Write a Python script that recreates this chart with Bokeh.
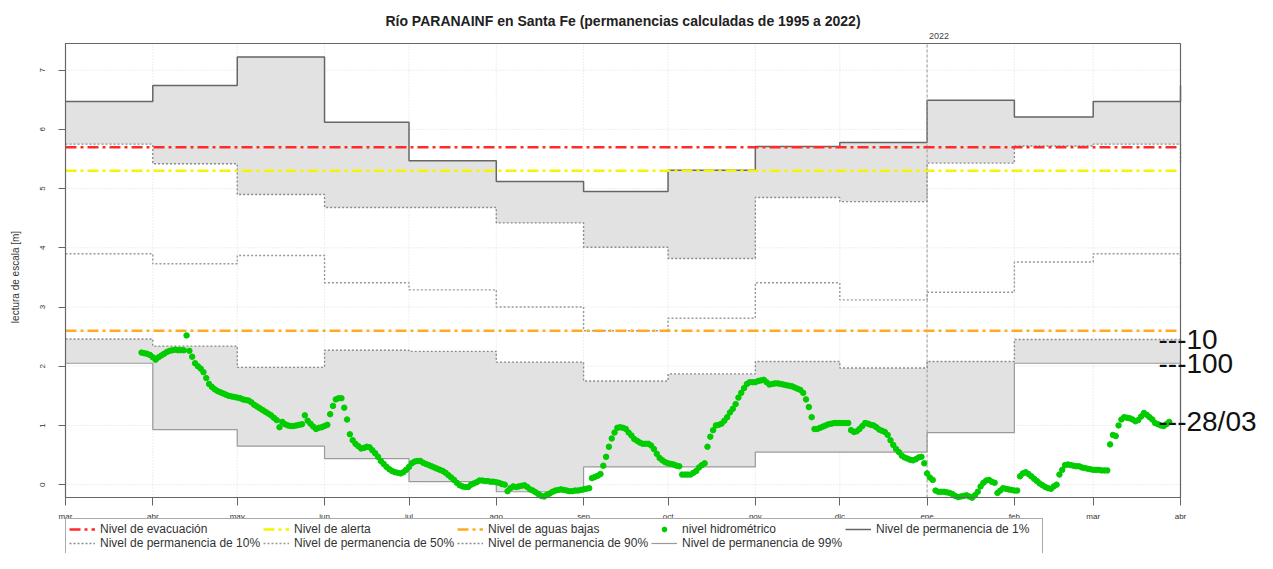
import pandas as pd
from bokeh.plotting import figure
from bokeh.models import (Legend, LegendItem, Label, FixedTicker, Range1d)
from bokeh.embed import file_html
from bokeh.resources import INLINE

# ---------------- data ----------------
titulo = "Río PARANAINF en Santa Fe (permanencias calculadas de 1995 a 2022)"
month_dates = ["2021-03-01", "2021-04-01", "2021-05-01", "2021-06-01", "2021-07-01",
               "2021-08-01", "2021-09-01", "2021-10-01", "2021-11-01", "2021-12-01",
               "2022-01-01", "2022-02-01", "2022-03-01", "2022-04-01"]
month_labels = ["mar", "abr", "may", "jun", "jul", "ago", "sep", "oct", "nov", "dic",
                "ene", "feb", "mar", "abr"]
y_ticks = [0, 1, 2, 3, 4, 5, 6, 7]
y_limits = [-0.217, 7.45]

perm_1 = [6.47, 6.74, 7.22, 6.12, 5.47, 5.12, 4.95, 5.31, 5.71, 5.78, 6.49, 6.21, 6.47, 6.74]
perm_10 = [5.75, 5.42, 4.90, 4.68, 4.68, 4.42, 4.01, 3.82, 4.85, 4.78, 5.43, 5.72, 5.75, 5.42]
perm_50 = [3.90, 3.73, 3.87, 3.41, 3.29, 3.00, 2.60, 2.81, 3.41, 3.12, 3.25, 3.76, 3.90, 3.73]
perm_90 = [2.46, 2.34, 1.98, 2.27, 2.25, 2.07, 1.75, 1.87, 2.08, 1.97, 2.08, 2.45, 2.45, 2.34]
perm_99 = [2.05, 0.93, 0.65, 0.44, 0.05, -0.12, 0.30, 0.30, 0.55, 0.55, 0.88, 2.05, 2.05, 0.93]

nivel_evacuacion = 5.7
nivel_alerta = 5.3
nivel_aguas_bajas = 2.6

nivel_start = "2021-03-28"
nivel = [
    2.23, 2.22, 2.21, 2.19, 2.15, 2.11,
    2.15, 2.18, 2.21, 2.24, 2.26, 2.27, 2.28, 2.27, 2.27, 2.27,
    2.52,
    2.26, 2.16, 2.05, 2.00, 1.96, 1.90, 1.80,
    1.70, 1.65, 1.61, 1.58, 1.56, 1.54, 1.52, 1.50, 1.49, 1.48,
    1.47, 1.46, 1.44, 1.43, 1.42, 1.39, 1.35, 1.32, 1.29, 1.26,
    1.23, 1.20, 1.17, 1.13, 1.09, 0.97, 1.06, 1.02, 1.00, 0.99,
    0.99, 1.00, 1.01, 1.02, 1.17, 1.08, 1.03, 0.98, 0.94, 0.96,
    0.97, 0.99, 1.01, 1.19, 1.33, 1.44, 1.46, 1.46, 1.30, 1.10,
    0.85, 0.75, 0.69, 0.65, 0.61, 0.62, 0.64, 0.63, 0.58, 0.53,
    0.47, 0.40, 0.35, 0.30, 0.26, 0.23, 0.21, 0.20, 0.19, 0.21,
    0.25, 0.30, 0.36, 0.39, 0.40, 0.40, 0.37, 0.35, 0.33, 0.31,
    0.29, 0.27, 0.25, 0.23, 0.20, 0.16, 0.12, 0.08, 0.03, -0.01,
    -0.03, -0.04, -0.04, 0.00, 0.02, 0.04, 0.07, 0.07, 0.06, 0.06,
    0.05, 0.05, 0.04, 0.03, 0.01, 0.00, -0.11, -0.06, -0.03, -0.04,
    -0.03, -0.02, -0.01, -0.04, -0.08, -0.10, -0.13, -0.16, -0.19, -0.20,
    -0.17, -0.15, -0.12, -0.10, -0.09, -0.08, -0.09, -0.10, -0.11, -0.11,
    -0.10, -0.10, -0.09, -0.08, -0.07, -0.06,
    0.11, 0.13, 0.15, 0.18, 0.32, 0.47, 0.64, 0.78, 0.88, 0.96,
    0.97, 0.96, 0.94, 0.88, 0.83, 0.77, 0.74, 0.71, 0.69, 0.69,
    0.69, 0.66, 0.60, 0.52, 0.45, 0.41, 0.38, 0.36, 0.35, 0.34,
    0.32, 0.31, 0.17, 0.17, 0.17, 0.17, 0.20, 0.23, 0.29, 0.33,
    0.36, 0.64, 0.81, 0.92, 1.00, 1.01, 1.03, 1.08, 1.14, 1.22,
    1.28, 1.36, 1.47, 1.55, 1.63, 1.70, 1.73, 1.73, 1.73, 1.75,
    1.76, 1.77, 1.73, 1.69, 1.70, 1.71, 1.71, 1.70, 1.69, 1.68,
    1.67, 1.66, 1.64, 1.62, 1.60, 1.55, 1.44, 1.31, 1.14, 0.94,
    0.94, 0.96, 0.98, 1.00, 1.02, 1.03, 1.04, 1.04, 1.04, 1.04,
    1.04, 1.04, 0.92, 0.89, 0.90, 0.94, 0.99, 1.04, 1.03, 1.01,
    1.00, 0.97, 0.93, 0.91, 0.89, 0.84, 0.75, 0.67, 0.60, 0.55,
    0.49, 0.46, 0.44, 0.42, 0.41, 0.43, 0.46, 0.47, 0.36, 0.19,
    0.12, 0.08, -0.10, -0.12, -0.12, -0.12, -0.13, -0.14, -0.16, -0.19,
    -0.21, -0.20, -0.19, -0.18, -0.20, -0.22, -0.18, -0.12, -0.03, 0.03,
    0.07, 0.08, 0.05, 0.03, -0.14, -0.10, -0.06, -0.07, -0.08, -0.09,
    -0.10, -0.10, 0.14, 0.19, 0.21, 0.18, 0.14, 0.10, 0.06, 0.02,
    -0.01, -0.04, -0.06, -0.07, -0.03, 0.00, 0.17, 0.25, 0.33, 0.34,
    0.33, 0.32, 0.31, 0.31, 0.29, 0.28, 0.27, 0.26, 0.25, 0.25,
    0.25, 0.24, 0.24, 0.24,
    0.68, 0.84, 0.82, 1.00, 1.10, 1.14, 1.13, 1.12, 1.10, 1.07,
    1.09, 1.15, 1.21, 1.18, 1.14, 1.10, 1.04, 1.02, 1.00, 0.99,
    1.02, 1.06,
]
anotaciones = ["---10", "---100", "---28/03"]
anot_valores = [perm_90[-2], perm_99[-2], nivel[-1]]
year_mark = "2022-01-01"
year_text = "2022"

# ---------------- helpers ----------------
ORIGIN = pd.Timestamp(month_dates[0])
def day(d):
    return (pd.Timestamp(d) - ORIGIN).days

mx = [day(d) for d in month_dates]
nivel_x = [day(d) for d in pd.date_range(nivel_start, periods=len(nivel), freq="D")]

FONT = "Liberation Sans"
W, H = 1257, 553
# box (plot area) in canvas pixels
BOX_L, BOX_R, BOX_T, BOX_B = 65, 1180, 43, 497
ppx = (BOX_R - BOX_L) / (mx[-1] - mx[0])
ppy = (BOX_B - BOX_T) / (y_limits[1] - y_limits[0])
x0 = mx[0] - BOX_L / ppx
x1 = mx[-1] + (W - BOX_R) / ppx
y1 = y_limits[1] + BOX_T / ppy
y0 = y_limits[0] - (H - BOX_B) / ppy

p = figure(width=W, height=H, output_backend="svg", toolbar_location=None,
           x_range=Range1d(x0, x1), y_range=Range1d(y0, y1),
           min_border=0, min_border_left=0, min_border_right=0,
           min_border_top=0, min_border_bottom=0,
           background_fill_color="white", border_fill_color="white")
p.outline_line_color = None
p.grid.visible = False

# axes drawn at the box edges
p.xaxis.fixed_location = y_limits[0]
p.yaxis.fixed_location = mx[0]
p.xaxis.ticker = FixedTicker(ticks=mx)
p.xaxis.major_label_overrides = {v: lab for v, lab in zip(mx, month_labels)}
p.yaxis.ticker = FixedTicker(ticks=y_ticks)
for ax in (p.xaxis[0], p.yaxis[0]):
    ax.axis_line_color = None
    ax.minor_tick_line_color = None
    ax.major_tick_in = 0
    ax.major_tick_line_color = "#666666"
    ax.major_label_text_font = FONT
    ax.major_label_text_font_size = "8px"
    ax.major_label_text_color = "#333333"
p.xaxis.major_tick_out = 8
p.xaxis.major_label_standoff = 6
p.yaxis.major_tick_out = 7
p.yaxis.major_label_standoff = 13
p.yaxis.major_label_orientation = "vertical"
p.yaxis.axis_label = "lectura de escala [m]"
p.yaxis.axis_label_text_font = FONT
p.yaxis.axis_label_text_font_style = "normal"
p.yaxis.axis_label_text_font_size = "10px"
p.yaxis.axis_label_text_color = "#333333"
p.yaxis.axis_label_standoff = 17

# grid lines (inside the box only)
GRID = dict(line_color="#dddddd", line_dash="1 2", line_width=1)
p.segment(x0=mx, x1=mx, y0=[y_limits[0]] * len(mx), y1=[y_limits[1]] * len(mx), **GRID)
p.segment(x0=[mx[0]] * len(y_ticks), x1=[mx[-1]] * len(y_ticks), y0=y_ticks, y1=y_ticks, **GRID)

# shaded bands
FILL = "#e2e2e2"
p.varea_step(x=mx, y1=perm_1, y2=perm_10, step_mode="after", fill_color=FILL)
p.varea_step(x=mx, y1=perm_90, y2=perm_99, step_mode="after", fill_color=FILL)

# permanence lines
r_p10 = p.step(mx, perm_10, mode="after", line_color="#8c8c8c", line_dash="2 2", line_width=1.4)
r_p50 = p.step(mx, perm_50, mode="after", line_color="#999999", line_dash="2 2", line_width=1.4)
r_p90 = p.step(mx, perm_90, mode="after", line_color="#8c8c8c", line_dash="2 2", line_width=1.4)
r_p99 = p.step(mx, perm_99, mode="after", line_color="#9a9a9a", line_width=1.2)
r_p1 = p.step(mx, perm_1, mode="after", line_color="#666666", line_width=1.5)

# year separator
yx = day(year_mark)
p.segment(x0=[yx], x1=[yx], y0=[y_limits[0]], y1=[y_limits[1]], line_color="#999999",
          line_dash="3 2", line_width=1)

# threshold lines
DASH = "11 4 3 4"
xr = [mx[0], mx[-1]]
r_evac = p.line(xr, [nivel_evacuacion] * 2, line_color="#ff2a2a", line_dash=DASH, line_width=2.5)
r_alert = p.line(xr, [nivel_alerta] * 2, line_color="#f5f500", line_dash=DASH, line_width=2.5)
r_low = p.line(xr, [nivel_aguas_bajas] * 2, line_color="#ffaa22", line_dash=DASH, line_width=2.5)

# hydrometric level
r_nivel = p.scatter(nivel_x, nivel, size=5.5, marker="circle", fill_color="#00cc00",
                    line_color="#00cc00")

# box
p.quad(left=[mx[0]], right=[mx[-1]], bottom=[y_limits[0]], top=[y_limits[1]],
       fill_color=None, line_color="#666666", line_width=1.2)

# title and labels
p.add_layout(Label(x=(mx[0] + mx[-1]) / 2, y=H - 20, x_units="data", y_units="screen",
                   text=titulo, text_align="center", text_baseline="middle", text_font=FONT,
                   text_font_size="14px", text_font_style="bold", text_color="#222222"))
p.add_layout(Label(x=yx, y=H - 35, x_units="data", y_units="screen", x_offset=2,
                   text=year_text, text_align="left", text_baseline="middle", text_font=FONT,
                   text_font_size="9px", text_color="#444444"))
for t, v in zip(anotaciones, anot_valores):
    p.add_layout(Label(x=mx[-1], y=v, x_units="data", y_units="data", x_offset=-22,
                       text=t, text_align="left", text_baseline="middle", text_font=FONT,
                       text_font_size="28px", text_color="#111111"))

# legend
items = [
    LegendItem(label="Nivel de evacuación", renderers=[r_evac]),
    LegendItem(label="Nivel de alerta", renderers=[r_alert]),
    LegendItem(label="Nivel de aguas bajas", renderers=[r_low]),
    LegendItem(label="nivel hidrométrico", renderers=[r_nivel]),
    LegendItem(label="Nivel de permanencia de 1%", renderers=[r_p1]),
    LegendItem(label="Nivel de permanencia de 10%", renderers=[r_p10]),
    LegendItem(label="Nivel de permanencia de 50%", renderers=[r_p50]),
    LegendItem(label="Nivel de permanencia de 90%", renderers=[r_p90]),
    LegendItem(label="Nivel de permanencia de 99%", renderers=[r_p99]),
]
leg = Legend(items=items, location=(BOX_L, -1), orientation="horizontal", ncols=5,
             label_text_font=FONT, label_text_font_size="12px", label_text_color="#333333",
             glyph_width=26, glyph_height=12, label_height=12, label_standoff=5,
             label_width=163, spacing=0, padding=3, margin=0, border_line_color="#555555",
             background_fill_alpha=1.0, background_fill_color="white")
p.add_layout(leg, "center")

open("out.html", "w").write(file_html(p, INLINE))
